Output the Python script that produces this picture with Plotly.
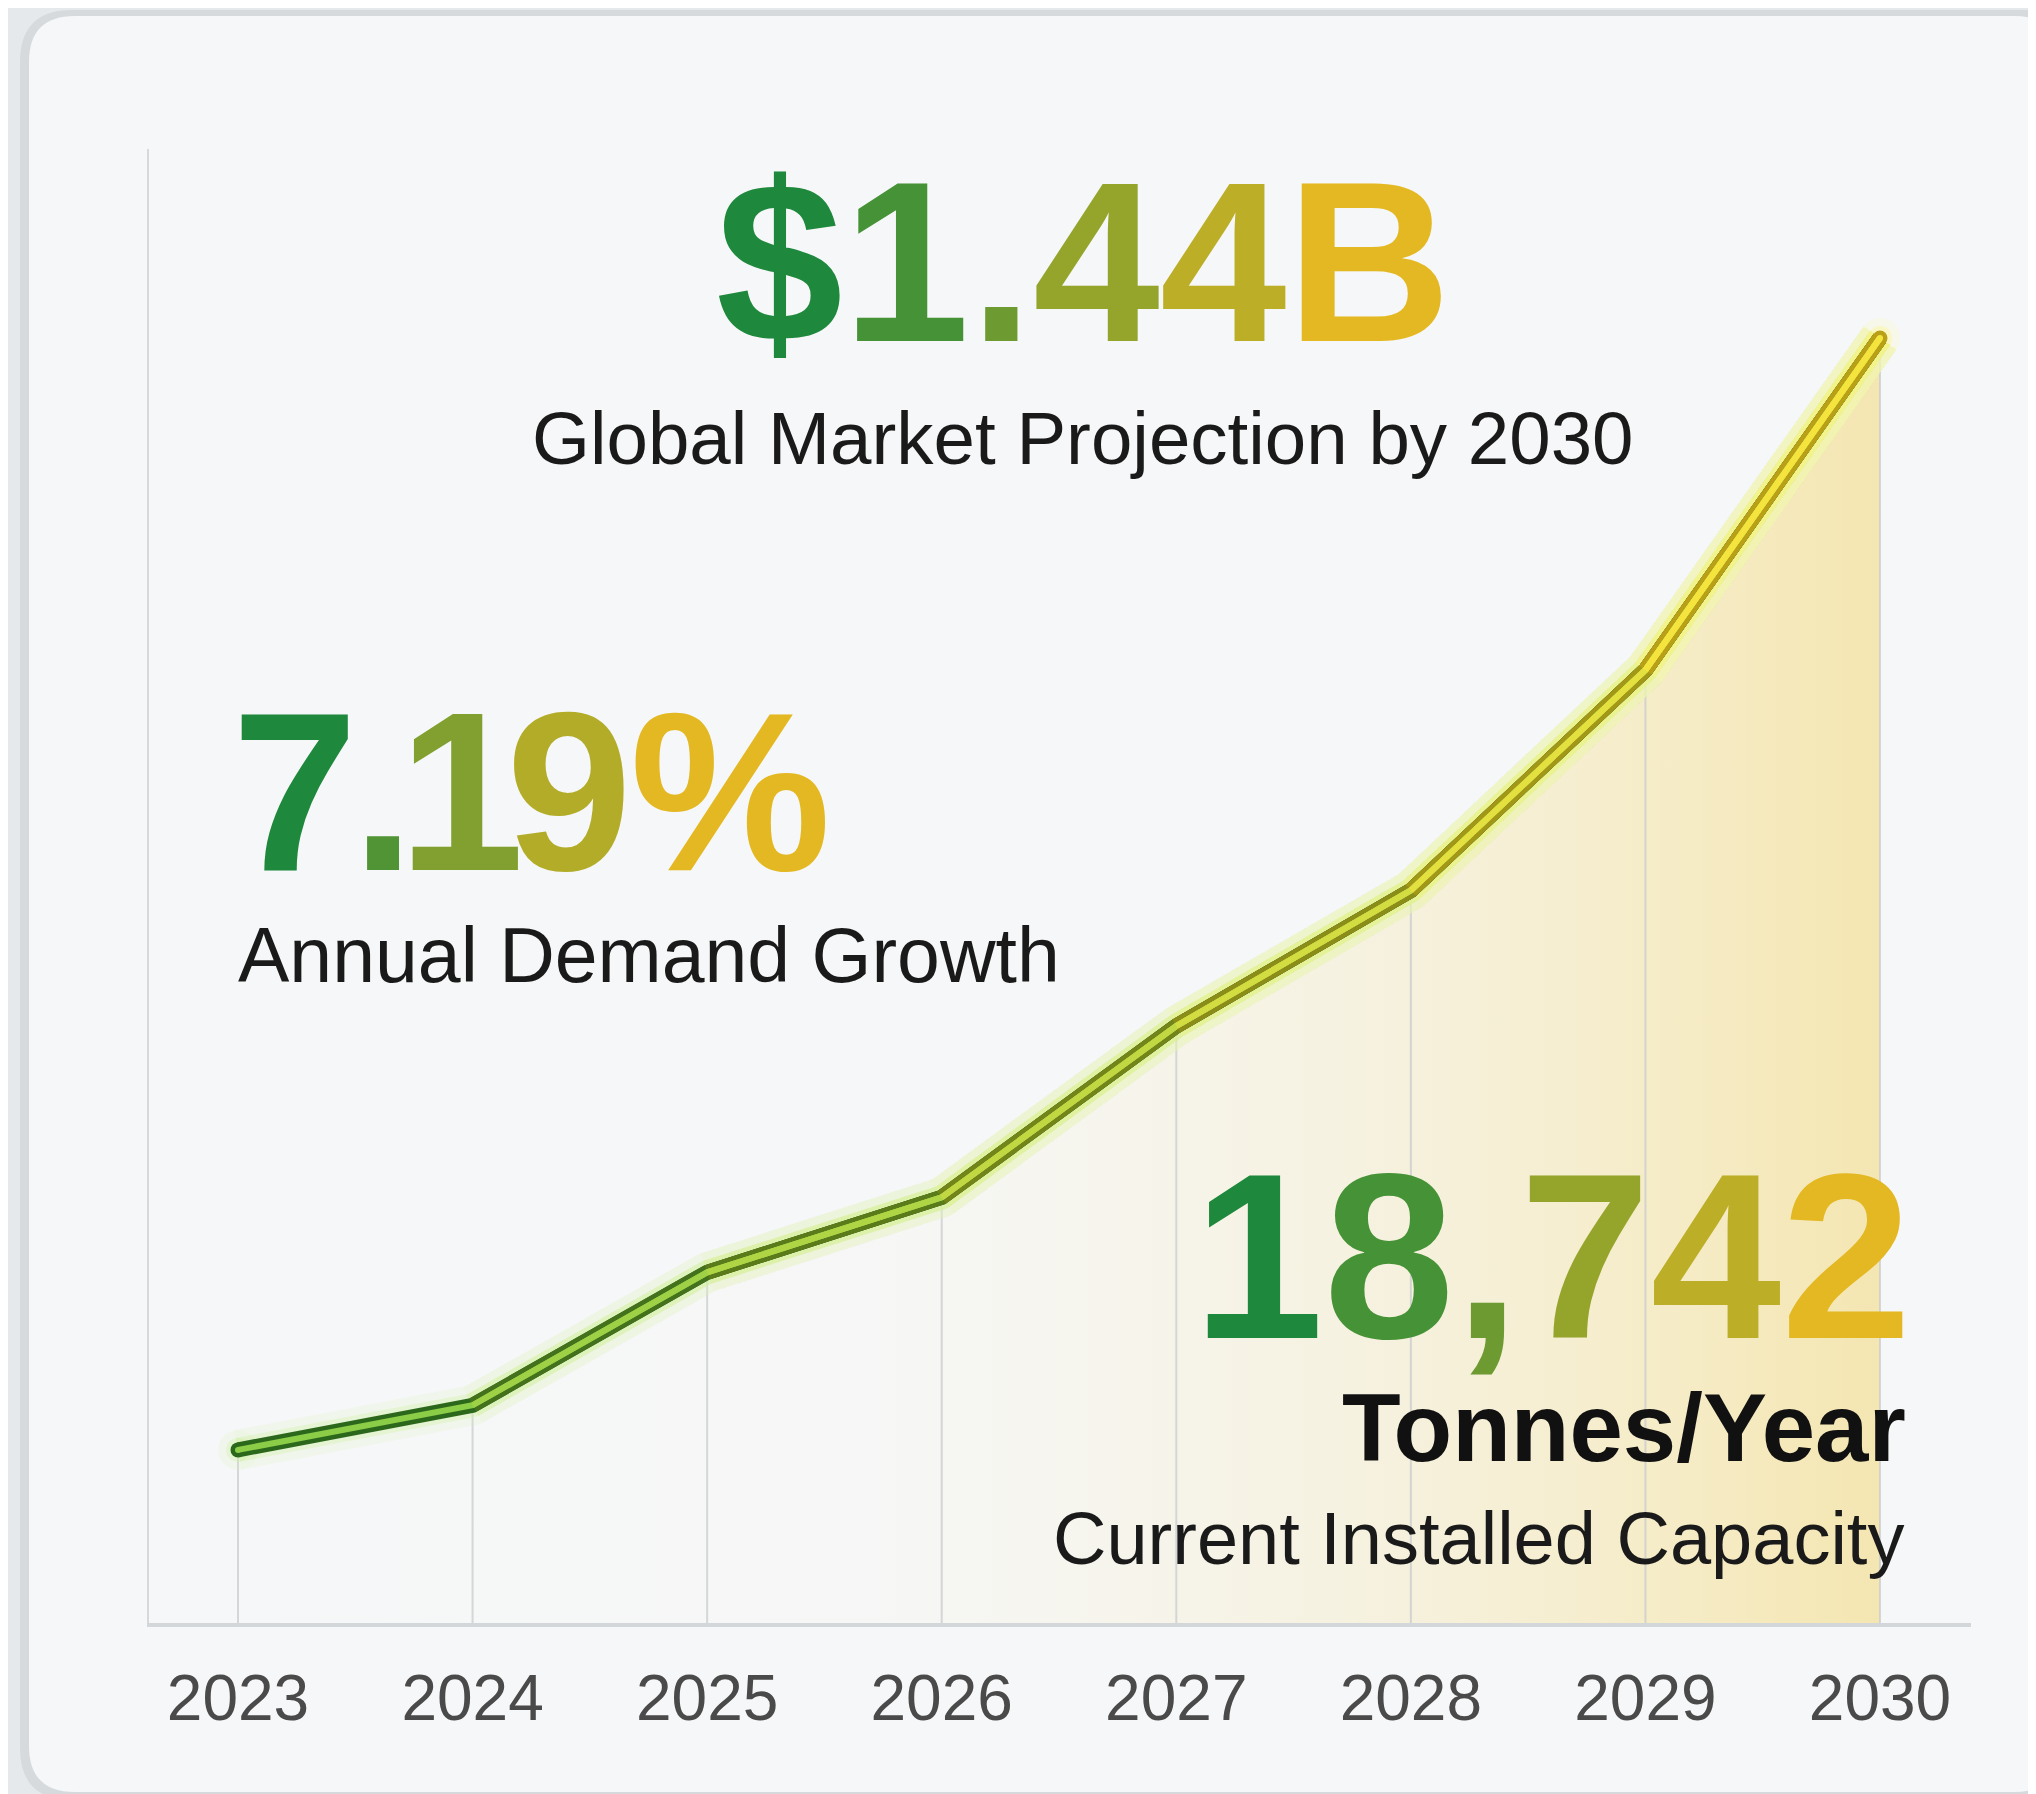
import plotly.graph_objects as go

# ---------------- data ----------------
years = [2023, 2024, 2025, 2026, 2027, 2028, 2029, 2030]
market_value_b = [0.194, 0.244, 0.393, 0.477, 0.669, 0.821, 1.068, 1.44]
tick_labels = ["2023", "2024", "2025", "2026", "2027", "2028", "2029", "2030"]

headline_value = "$1.44B"
headline_label = "Global Market Projection by 2030"
growth_value = "7.19%"
growth_label = "Annual Demand Growth"
capacity_value = "18,742"
capacity_unit = "Tonnes/Year"
capacity_label = "Current Installed Capacity"

# ---------------- layout geometry (page pixels) ----------------
W, H = 2036, 1794
OFF = 8  # default body margin of the html page
L, R, T, B = 149, 1971, 149, 1623


def pxx(x):
    return (x - L) / (R - L)


def pxy(y):
    return (B - y) / (B - T)


FONT = "Liberation Sans, Arial, sans-serif"
GREEN = (30, 136, 60)
GOLD = (228, 184, 34)


def mix(c0, c1, t, a=None):
    c = [round(c0[k] + (c1[k] - c0[k]) * t) for k in range(3)]
    if a is None:
        return "rgb(%d,%d,%d)" % tuple(c)
    return "rgba(%d,%d,%d,%.3f)" % (c[0], c[1], c[2], a)


def grad_text(s, spacing=None):
    n = len(s)
    out = []
    for i, ch in enumerate(s):
        t = i / (n - 1) if n > 1 else 0
        st = "color:%s" % mix(GREEN, GOLD, t)
        if spacing is not None and spacing[i]:
            st += ";letter-spacing:%dpx" % spacing[i]
        out.append('<span style="%s">%s</span>' % (st, ch))
    return "<b>" + "".join(out) + "</b>"


fig = go.Figure()

# area fill under the line (fading in toward the right)
fig.add_trace(go.Scatter(
    x=years, y=market_value_b, mode="lines", line=dict(width=0),
    fill="tozeroy",
    fillgradient=dict(type="horizontal", colorscale=[
        [0.0, "rgba(250,245,215,0.0)"],
        [0.40, "rgba(248,238,195,0.05)"],
        [0.70, "rgba(246,232,180,0.38)"],
        [1.0, "rgba(244,226,160,0.80)"],
    ]),
    hoverinfo="skip", showlegend=False,
))

# drop lines from each point to the axis
gx, gy = [], []
for xv, yv in zip(years, market_value_b):
    gx += [xv, xv, None]
    gy += [0, yv, None]
fig.add_trace(go.Scatter(x=gx, y=gy, mode="lines",
                         line=dict(color="rgba(200,203,206,0.75)", width=2),
                         hoverinfo="skip", showlegend=False))

n_seg = len(years) - 1
layers = [
    # (width, start colour, end colour, alpha)
    (40, (220, 245, 190), (255, 248, 170), 0.18),
    (24, (205, 240, 160), (255, 245, 130), 0.35),
    (15, (44, 104, 28), (186, 160, 22), 1.0),
    (6, (140, 205, 72), (246, 228, 62), 1.0),
]
for width, c0, c1, alpha in layers:
    for i in range(n_seg):
        t = i / (n_seg - 1)
        fig.add_trace(go.Scatter(
            x=years[i:], y=market_value_b[i:], mode="lines",
            line=dict(color=mix(c0, c1, t, alpha), width=width),
            hoverinfo="skip", showlegend=False,
        ))
    # rounded ends
    fig.add_trace(go.Scatter(
        x=[years[0], years[-1]], y=[market_value_b[0], market_value_b[-1]],
        mode="markers",
        marker=dict(size=width, color=[mix(c0, c1, 0, alpha), mix(c0, c1, 1, alpha)], line=dict(width=0)),
        hoverinfo="skip", showlegend=False,
    ))

# ---------------- card background ----------------
def rounded_rect(x0, y0, x1, y1, r):
    X0, X1 = pxx(x0), pxx(x1)
    Y0, Y1 = pxy(y0), pxy(y1)
    rx = r / (R - L)
    ry = r / (B - T)
    return (f"M {X0+rx},{Y0} L {X1-rx},{Y0} Q {X1},{Y0} {X1},{Y0-ry} "
            f"L {X1},{Y1+ry} Q {X1},{Y1} {X1-rx},{Y1} L {X0+rx},{Y1} "
            f"Q {X0},{Y1} {X0},{Y1+ry} L {X0},{Y0-ry} Q {X0},{Y0} {X0+rx},{Y0} Z")


shapes = [
    dict(type="path", xref="paper", yref="paper", layer="below",
         path=rounded_rect(20, 10, 2080, 1800, 52),
         fillcolor="rgba(150,158,165,0.20)", line=dict(width=0)),
    dict(type="path", xref="paper", yref="paper", layer="below",
         path=rounded_rect(29, 16, 2060, 1792, 46),
         fillcolor="#f6f7f8", line=dict(width=0)),
]

# ---------------- text ----------------
annotations = [
    dict(text=grad_text(headline_value), x=pxx(1083), y=pxy(262), xanchor="center", yanchor="middle",
         font=dict(family=FONT, size=228)),
    dict(text=headline_label, x=pxx(1083), y=pxy(438), xanchor="center", yanchor="middle",
         font=dict(family=FONT, size=74.5, color="#1a1a1a")),
    dict(text=grad_text(growth_value, spacing=[-6, -16, -18, -2, 0]), x=pxx(230), y=pxy(791),
         xanchor="left", yanchor="middle",
         font=dict(family=FONT, size=226)),
    dict(text=growth_label, x=pxx(236), y=pxy(955), xanchor="left", yanchor="middle",
         font=dict(family=FONT, size=77, color="#1a1a1a")),
    dict(text=grad_text(capacity_value), x=pxx(1914), y=pxy(1256), xanchor="right", yanchor="middle",
         font=dict(family=FONT, size=235)),
    dict(text="<b>" + capacity_unit + "</b>", x=pxx(1908), y=pxy(1427), xanchor="right", yanchor="middle",
         font=dict(family=FONT, size=96, color="#111111")),
    dict(text=capacity_label, x=pxx(1906), y=pxy(1538), xanchor="right", yanchor="middle",
         font=dict(family=FONT, size=74, color="#1a1a1a")),
]
for a in annotations:
    a.update(xref="paper", yref="paper", showarrow=False)

x_min = years[0] - (238 - L) / ((1880 - 238) / 7)
x_max = years[-1] + (R - 1880) / ((1880 - 238) / 7)
y_max = market_value_b[-1] * (B - T) / (B - 338)

fig.update_layout(
    width=W, height=H,
    margin=dict(l=L - OFF, r=W - (R - OFF), t=T - OFF, b=H - (B - OFF), pad=0),
    paper_bgcolor="#e6e9eb",
    plot_bgcolor="rgba(0,0,0,0)",
    shapes=shapes,
    annotations=annotations,
    showlegend=False,
    xaxis=dict(range=[x_min, x_max], tickvals=years, ticktext=tick_labels,
               showgrid=False, zeroline=False, showline=True,
               linecolor="#d4d7d9", linewidth=4, ticks="",
               ticklabelstandoff=16,
               tickfont=dict(family=FONT, size=64, color="#4a4a4a"),
               fixedrange=True),
    yaxis=dict(range=[0, y_max], showgrid=False, zeroline=False, showline=True,
               linecolor="#d6d8da", linewidth=2, showticklabels=False, ticks="",
               fixedrange=True),
)

fig.write_html("out.html")
